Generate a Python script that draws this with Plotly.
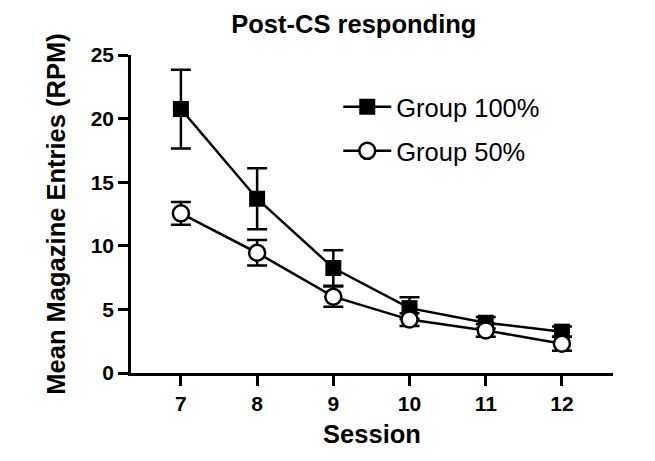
import plotly.graph_objects as go

sessions = [7, 8, 9, 10, 11, 12]
g100_mean = [20.75, 13.7, 8.25, 5.1, 3.95, 3.25]
g100_sem = [3.1, 2.4, 1.4, 0.85, 0.45, 0.4]
g50_mean = [12.55, 9.45, 6.0, 4.2, 3.35, 2.3]
g50_sem = [0.9, 1.0, 0.8, 0.5, 0.5, 0.55]

FONT = "Liberation Sans, Arial, sans-serif"

fig = go.Figure()
fig.add_trace(go.Scatter(
    x=sessions, y=g100_mean, name="Group 100%", mode="lines+markers",
    line=dict(color="black", width=2.5),
    marker=dict(symbol="square", size=16, color="black"),
    error_y=dict(type="data", array=g100_sem, color="black", thickness=2.5, width=10),
    legendgroup="a",
))
fig.add_trace(go.Scatter(
    x=sessions, y=g50_mean, name="Group 50%", mode="lines+markers",
    line=dict(color="black", width=2.5),
    marker=dict(symbol="circle", size=16, color="white", line=dict(color="black", width=2.5)),
    error_y=dict(type="data", array=g50_sem, color="black", thickness=2.5, width=10),
    legendgroup="b",
))

fig.update_layout(
    width=655, height=461,
    margin=dict(l=123, r=50, t=47, b=96),
    paper_bgcolor="white", plot_bgcolor="white",
    title=dict(text="<b>Post-CS responding</b>", x=0.528, xanchor="center",
               y=0.966, yanchor="middle", yref="container",
               font=dict(family=FONT, size=25.5, color="black")),
    legend=dict(x=0.43, y=0.91, xanchor="left", yanchor="top",
                font=dict(family=FONT, size=25.5, color="black"),
                itemwidth=48,
                bgcolor="rgba(0,0,0,0)", tracegroupgap=8, traceorder="grouped"),
    font=dict(family=FONT, color="black"),
)
fig.update_xaxes(
    range=[6.345, 12.67], tickvals=sessions, ticktext=[str(s) for s in sessions],
    showgrid=False, zeroline=False, showline=True, linecolor="black", linewidth=2.5,
    ticks="outside", ticklen=10, tickwidth=2.5, tickcolor="black",
    tickfont=dict(family=FONT, size=21, color="black", weight="bold"),
    title=dict(text="<b>Session</b>", font=dict(family=FONT, size=25.5, color="black"), standoff=12),
)
fig.update_yaxes(
    range=[0, 25], tickvals=[0, 5, 10, 15, 20, 25],
    showgrid=False, zeroline=False, showline=True, linecolor="black", linewidth=2.5,
    ticks="outside", ticklen=10, tickwidth=2.5, tickcolor="black",
    tickfont=dict(family=FONT, size=21, color="black", weight="bold"),
    title=dict(text="<b>Mean Magazine Entries (RPM)</b>", font=dict(family=FONT, size=25.5, color="black"), standoff=18),
)

fig.write_html("out.html")
